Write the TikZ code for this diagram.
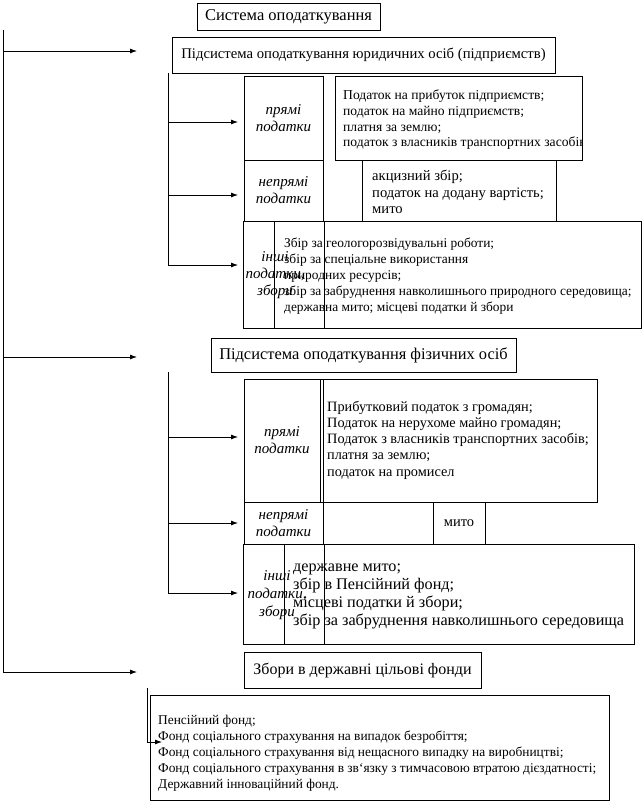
\documentclass[tikz,border=0pt]{standalone}
\usepackage{fontspec}
\setmainfont{Liberation Serif}
\usetikzlibrary{arrows.meta}
\begin{document}
\begin{tikzpicture}[x=1pt,y=-1pt,
  box/.style={draw, line width=0.8pt, inner sep=0pt, rectangle},
  conn/.style={line width=0.8pt},
  arr/.style={conn, -{Latex[length=7pt,width=5pt]}},
  lab/.style={font=\itshape\fontsize{15}{17}\selectfont, align=center, inner sep=0pt},
  txt/.style={inner sep=0pt, align=left, anchor=west},
]
\useasboundingbox (0,0) rectangle (644,810);

% title and first subsystem
\node[box, minimum width=183pt, minimum height=27pt, font=\fontsize{16.5}{18}\selectfont] (title) at (288.5,16.5) {Система оподаткування};
\node[box, minimum width=383pt, minimum height=36pt, font=\fontsize{14.7}{17}\selectfont] (S1) at (363.5,55) {Підсистема оподаткування юридичних осіб (підприємств)};

% legal persons: direct taxes
\node[box, minimum width=79pt, minimum height=84pt, lab] (P1) at (283.5,118) {прямі\\податки};
\node[box, minimum width=247pt, minimum height=84pt] (T1) at (458.5,118) {};
\begin{scope}
\clip (T1.south west) rectangle (T1.north east);
\node[txt, font=\fontsize{13.6}{15.7}\selectfont] (T1t) at (343,120) {Податок на прибуток підприємств;\\податок на майно підприємств;\\платня за землю;\\податок з власників транспортних засобів};
\end{scope}

% legal persons: indirect taxes
\node[box, minimum width=79pt, minimum height=61pt, lab] (N1) at (283.5,190.5) {непрямі\\податки};
\node[box, minimum width=194pt, minimum height=61pt] (E1) at (459,190.5) {};
\node[txt, font=\fontsize{14.6}{16.3}\selectfont] (E1t) at (372,192) {акцизний збір;\\податок на додану вартість;\\мито};

% legal persons: other
\node[box, minimum width=398pt, minimum height=107pt] (I1) at (442,274.5) {};
\draw[conn] (274,221) -- (274,328);
\draw[conn] (324,221) -- (324,328);
\node[lab] (I1l) at (275,275) {інші\\податки,\\збори};
\node[txt, font=\fontsize{13.4}{16}\selectfont] (I1t) at (284,276) {Збір за геологорозвідувальні роботи;\\збір за спеціальне використання\\природних ресурсів;\\збір за забруднення навколишнього природного середовища;\\державна мито; місцеві податки й збори};

% second subsystem
\node[box, minimum width=305pt, minimum height=34pt, font=\fontsize{16.4}{18}\selectfont] (S2) at (363.5,355) {Підсистема оподаткування фізичних осіб};

\node[box, minimum width=353pt, minimum height=123pt] (P2) at (420.5,440.5) {};
\draw[conn] (320,379) -- (320,502);
\draw[conn] (323,379) -- (323,502);
\node[lab] (P2l) at (282,440) {прямі\\податки};
\node[txt, font=\fontsize{14.3}{16.3}\selectfont] (P2t) at (327,440) {Прибутковий податок з громадян;\\Податок на нерухоме майно громадян;\\Податок з власників транспортних засобів;\\платня за землю;\\податок на промисел};

\node[box, minimum width=241pt, minimum height=42pt] (N2) at (364.5,523) {};
\draw[conn] (323,502) -- (323,544);
\draw[conn] (433,502) -- (433,544);
\node[lab] (N2l) at (283.5,523) {непрямі\\податки};
\node[inner sep=0pt, font=\fontsize{14.5}{16}\selectfont] (N2t) at (459,523) {мито};

\node[box, minimum width=391pt, minimum height=100pt] (I2) at (438.5,594) {};
\draw[conn] (284,544) -- (284,644);
\draw[conn] (324,544) -- (324,644);
\node[lab, font=\itshape\fontsize{15}{18}\selectfont] (I2l) at (277,595) {інші\\податки,\\збори};
\node[txt, font=\fontsize{16.2}{18}\selectfont] (I2t) at (293,596) {державне мито;\\збір в Пенсійний фонд;\\місцеві податки й збори;\\збір за забруднення навколишнього середовища};

% funds
\node[box, minimum width=237pt, minimum height=36pt, font=\fontsize{16}{18}\selectfont] (S3) at (362.5,670) {Збори в державні цільові фонди};
\node[box, minimum width=459pt, minimum height=105pt] (F) at (379.5,747.5) {};
\node[txt, font=\fontsize{13.4}{16}\selectfont] (Ft) at (158,753) {Пенсійний фонд;\\Фонд соціального страхування на випадок безробіття;\\Фонд соціального страхування від нещасного випадку на виробництві;\\Фонд соціального страхування в зв‘язку з тимчасовою втратою дієздатності;\\Державний інноваційний фонд.};

% connectors
\coordinate (m0) at (3,30);
\coordinate (mA1) at (3,51);
\coordinate (mA2) at (3,357);
\coordinate (m3) at (3,672);
\coordinate (tA1) at (137,51);
\coordinate (tA2) at (137,357);
\coordinate (tA3) at (137,672);
\draw[conn] (m0) -- (m3);
\draw[arr] (mA1) -- (tA1);
\draw[arr] (mA2) -- (tA2);
\draw[arr] (m3) -- (tA3);

\coordinate (l1a) at (168,73);
\coordinate (l1b) at (168,122);
\coordinate (l1c) at (168,195);
\coordinate (l1d) at (168,265);
\draw[conn] (l1a) -- (l1d);
\draw[arr] (l1b) -- (238,122) coordinate (tP1);
\draw[arr] (l1c) -- (238,195) coordinate (tN1);
\draw[arr] (l1d) -- (238,265) coordinate (tI1);

\coordinate (l2a) at (168,372);
\coordinate (l2b) at (168,437);
\coordinate (l2c) at (168,523);
\coordinate (l2d) at (168,593);
\draw[conn] (l2a) -- (l2d);
\draw[arr] (l2b) -- (238,437) coordinate (tP2);
\draw[arr] (l2c) -- (238,523) coordinate (tN2);
\draw[arr] (l2d) -- (238,593) coordinate (tI2);

\coordinate (l3a) at (147,688);
\coordinate (l3b) at (147,742);
\coordinate (tF) at (162,742);
\draw[arr] (l3a) -- (l3b) -- (tF);
\end{tikzpicture}
\end{document}
